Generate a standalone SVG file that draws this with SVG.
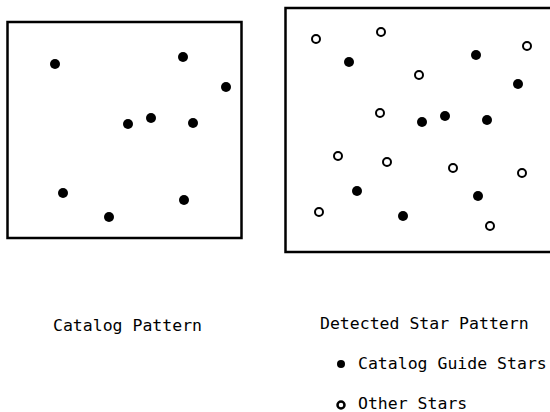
<svg xmlns="http://www.w3.org/2000/svg" width="550" height="412" viewBox="0 0 550 412">
<style>
.box{fill:none;stroke:#000;stroke-width:2.5}
.f{fill:#000}
.o{fill:#fff;stroke:#000;stroke-width:2}
text{font-family:"DejaVu Sans Mono","Liberation Mono",monospace;font-size:16.5px;fill:#000}
</style>
<rect width="550" height="412" fill="#fff"/>
<g id="catalog-pattern">
<rect class="box" x="7.5" y="22" width="234" height="216"/>
<circle class="f" cx="55" cy="64" r="5"/>
<circle class="f" cx="183" cy="57" r="5"/>
<circle class="f" cx="226" cy="87" r="5"/>
<circle class="f" cx="128" cy="124" r="5"/>
<circle class="f" cx="151" cy="118" r="5"/>
<circle class="f" cx="193" cy="123" r="5"/>
<circle class="f" cx="63" cy="193" r="5"/>
<circle class="f" cx="184" cy="200" r="5"/>
<circle class="f" cx="109" cy="217" r="5"/>
</g>
<g id="detected-pattern">
<rect class="box" x="285.5" y="8" width="280" height="244"/>
<circle class="o" cx="316" cy="39" r="4"/>
<circle class="o" cx="381" cy="32" r="4"/>
<circle class="o" cx="527" cy="46" r="4"/>
<circle class="o" cx="419" cy="75" r="4"/>
<circle class="o" cx="380" cy="113" r="4"/>
<circle class="o" cx="338" cy="156" r="4"/>
<circle class="o" cx="387" cy="162" r="4"/>
<circle class="o" cx="453" cy="168" r="4"/>
<circle class="o" cx="522" cy="173" r="4"/>
<circle class="o" cx="319" cy="212" r="4"/>
<circle class="o" cx="490" cy="226" r="4"/>
<circle class="f" cx="349" cy="62" r="5"/>
<circle class="f" cx="476" cy="55" r="5"/>
<circle class="f" cx="518" cy="84" r="5"/>
<circle class="f" cx="422" cy="122" r="5"/>
<circle class="f" cx="445" cy="116" r="5"/>
<circle class="f" cx="487" cy="120" r="5"/>
<circle class="f" cx="357" cy="191" r="5"/>
<circle class="f" cx="478" cy="196" r="5"/>
<circle class="f" cx="403" cy="216" r="5"/>
</g>
<g id="labels">
<text x="53" y="331">Catalog Pattern</text>
<text x="320" y="329">Detected Star Pattern</text>
</g>
<g id="legend">
<circle class="f" cx="341" cy="364" r="4"/>
<text x="358" y="369">Catalog Guide Stars</text>
<circle cx="341" cy="405" r="3.5" fill="#fff" stroke="#000" stroke-width="2.5"/>
<text x="358" y="409">Other Stars</text>
</g>
</svg>
